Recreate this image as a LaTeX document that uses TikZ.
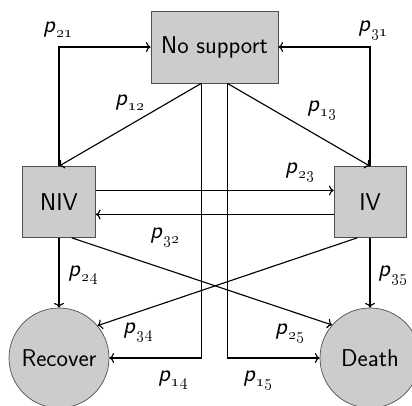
\documentclass[tikz,border=0pt]{standalone}
\definecolor{boxgray}{RGB}{204, 204, 204}
\definecolor{edgegray}{RGB}{80, 80, 80}
\usetikzlibrary{arrows.meta, positioning, calc}
\tikzset{
	state/.style={rectangle, draw=edgegray, fill=boxgray, line width=0.5pt, align=center, font=\sffamily\LARGE},
	absorb/.style={circle, draw=edgegray, fill=boxgray, line width=0.5pt, minimum size=2.5cm, inner sep=0pt, font=\sffamily\LARGE},
	trans/.style={->, thick, draw=black},
	prob/.style={font=\sffamily\LARGE, inner sep=1pt},
}
\newcommand{\pr}[1]{\textsl{p}\kern0.3pt\raisebox{-0.45ex}{\large\oldstylenums{#1}}}

\begin{document}
\begin{tikzpicture}
		\useasboundingbox (0,0) rectangle (10.3,10.125);
		\node[state, minimum width=3.175cm, minimum height=1.8cm] (nosup) at (5.3625,8.95) {No support};
		\node[state, minimum width=1.825cm, minimum height=1.775cm] (niv) at (1.475,5.075) {NIV};
		\node[state, minimum width=1.8cm, minimum height=1.775cm] (iv) at (9.25,5.075) {IV};
		\node[absorb] (recover) at (1.475,1.175) {Recover};
		\node[absorb] (death) at (9.25,1.175) {Death};
		\coordinate (nsl) at ($(nosup.south)+(-0.33,0)$);
		\coordinate (nsr) at ($(nosup.south)+(0.32,0)$);
		\draw[trans] (niv.north) |- (nosup.west);
		\draw[trans] (iv.north) |- (nosup.east);
		\draw[trans] (nsl) -- (niv.north);
		\draw[trans] (nsr) -- (iv.north);
		\draw[trans] ($(niv.east)+(0,0.29)$) -- ($(iv.west)+(0,0.29)$);
		\draw[trans] ($(iv.west)+(0,-0.31)$) -- ($(niv.east)+(0,-0.31)$);
		\draw[trans] (niv) -- (recover);
		\draw[trans] (iv) -- (death);
		\draw[trans] ($(niv.south)+(0.32,0)$) -- (death.139);
		\draw[trans] ($(iv.south)+(-0.32,0)$) -- (recover.40);
		\draw[trans] (nsl) |- (recover.east);
		\draw[trans] (nsr) |- (death.west);
		% transition probabilities
		\node[prob] (l21) at (1.45,9.375) {\pr{21}};
		\node[prob] (l31) at (9.325,9.375) {\pr{31}};
		\node[prob] (l12) at (3.25,7.55) {\pr{12}};
		\node[prob] (l13) at (8.05,7.375) {\pr{13}};
		\node[prob] (l23) at (7.5,5.825) {\pr{23}};
		\node[prob] (l32) at (4.125,4.2) {\pr{32}};
		\node[prob] (l24) at (2.075,3.25) {\pr{24}};
		\node[prob] (l35) at (9.825,3.25) {\pr{35}};
		\node[prob] (l34) at (3.45,1.825) {\pr{34}};
		\node[prob] (l25) at (7.25,1.8) {\pr{25}};
		\node[prob] (l14) at (4.325,0.625) {\pr{14}};
		\node[prob] (l15) at (6.45,0.625) {\pr{15}};
	\end{tikzpicture}
\end{document}
